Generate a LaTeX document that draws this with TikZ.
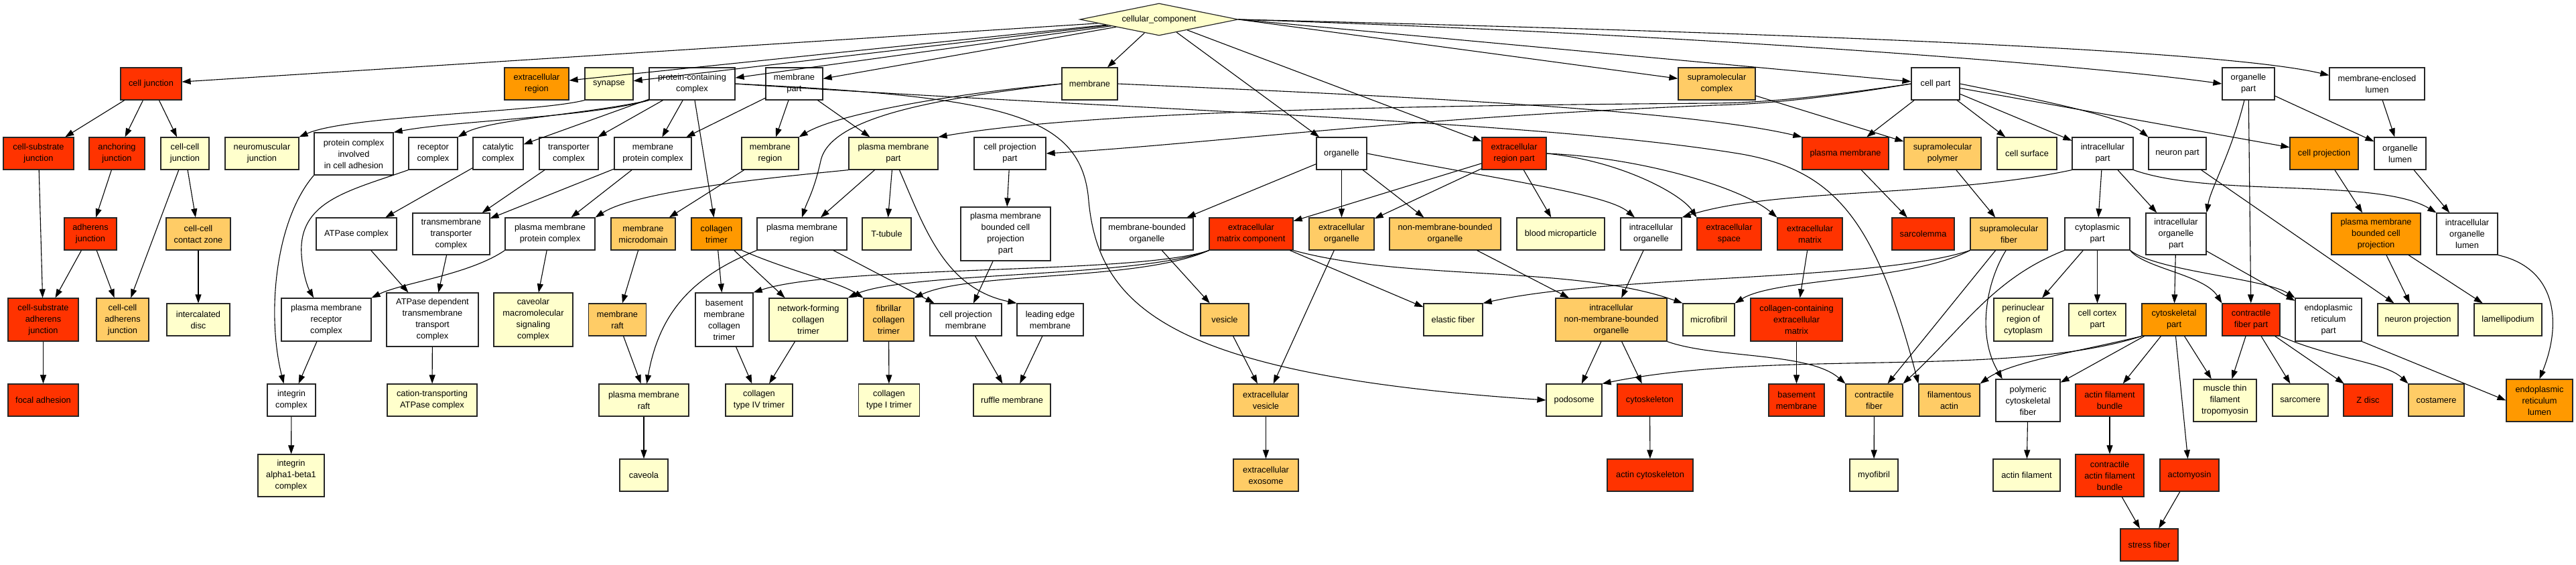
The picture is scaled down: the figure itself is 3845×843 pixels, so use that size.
\documentclass[tikz,border=0pt]{standalone}
\usepackage{fontspec}
\setmainfont{Liberation Sans}
\usetikzlibrary{arrows.meta,shapes.geometric}
\definecolor{cRd}{HTML}{FF3300}
\definecolor{cOr}{HTML}{FF9900}
\definecolor{cLo}{HTML}{FFCC66}
\definecolor{cLy}{HTML}{FFFFCC}
\tikzset{
 bx/.style={draw=black!85, line width=1.2pt, rectangle, align=center, inner sep=0pt, font=\fontsize{12.8}{17}\selectfont},
 fR/.style={fill=cRd}, fO/.style={fill=cOr}, fL/.style={fill=cLo}, fY/.style={fill=cLy}, fW/.style={fill=white},
 ar/.style={-{Triangle[length=13pt,width=9pt]}, line width=1.1pt, draw=black},
}
\newcommand{\gnode}[7]{\node[bx,#1,minimum width=#5pt,minimum height=#6pt] (#2) at (#3,-#4) {#7};}
\begin{document}
\begin{tikzpicture}[x=1pt,y=1pt]
\useasboundingbox (0,0) rectangle (3845,-843);
\fill[white] (0,0) rectangle (3845,-843);
% root
\node[draw=black!85, line width=1.2pt, fill=cLy, diamond, aspect=4.9, minimum width=236pt, minimum height=48pt, inner sep=0pt, font=\fontsize{12.8}{17}\selectfont] (root) at (1730,-29) {cellular\_component};
% row 1
\gnode{fR}{cj}{225.5}{125}{91}{48}{cell junction}
\gnode{fO}{exr}{801}{125}{96}{48}{extracellular\\region}
\gnode{fY}{syn}{909}{125}{72}{48}{synapse}
\gnode{fW}{pcc}{1033}{125}{128}{48}{protein-containing\\complex}
\gnode{fW}{mp}{1185.5}{125}{85}{48}{membrane\\part}
\gnode{fY}{mem}{1626.5}{125}{83}{48}{membrane}
\gnode{fL}{smc}{2562.5}{125}{115}{48}{supramolecular\\complex}
\gnode{fW}{cp}{2889}{125}{72}{48}{cell part}
\gnode{fW}{op}{3356}{125}{78}{48}{organelle\\part}
\gnode{fW}{mel}{3548}{125}{142}{48}{membrane-enclosed\\lumen}
% row 2
\gnode{fR}{csj}{57.5}{229}{105}{48}{cell-substrate\\junction}
\gnode{fR}{aj}{174.5}{229}{83}{48}{anchoring\\junction}
\gnode{fY}{ccj}{276}{229}{72}{48}{cell-cell\\junction}
\gnode{fY}{nmj}{391}{229}{110}{48}{neuromuscular\\junction}
\gnode{fW}{pcica}{528}{229.5}{118}{63}{protein complex\\involved\\in cell adhesion}
\gnode{fW}{rc}{646.5}{229}{73}{48}{receptor\\complex}
\gnode{fW}{cc}{743.5}{229}{75}{48}{catalytic\\complex}
\gnode{fW}{tc}{849}{229}{88}{48}{transporter\\complex}
\gnode{fW}{mpc}{974.5}{229}{115}{48}{membrane\\protein complex}
\gnode{fY}{mr}{1149.5}{229}{85}{48}{membrane\\region}
\gnode{fY}{pmp}{1333.5}{229}{133}{48}{plasma membrane\\part}
\gnode{fW}{cpp}{1507.5}{229}{107}{48}{cell projection\\part}
\gnode{fW}{org}{2002.5}{229}{75}{48}{organelle}
\gnode{fR}{erp}{2260}{229}{96}{48}{extracellular\\region part}
\gnode{fR}{pm}{2754.5}{229}{129}{48}{plasma membrane}
\gnode{fL}{smp}{2899.5}{229}{115}{48}{supramolecular\\polymer}
\gnode{fY}{cs}{3025.5}{229}{89}{48}{cell surface}
\gnode{fW}{ip}{3138.5}{229}{91}{48}{intracellular\\part}
\gnode{fW}{np}{3250}{229}{86}{48}{neuron part}
\gnode{fO}{cpr}{3469}{229}{102}{48}{cell projection}
\gnode{fW}{ol}{3582.5}{229}{77}{48}{organelle\\lumen}
% row 3
\gnode{fR}{adj}{135}{349}{78}{48}{adherens\\junction}
\gnode{fL}{cccz}{296}{349}{96}{48}{cell-cell\\contact zone}
\gnode{fW}{atpc}{532}{349}{120}{48}{ATPase complex}
\gnode{fW}{ttc}{673.5}{349}{115}{62}{transmembrane\\transporter\\complex}
\gnode{fW}{pmpc}{821}{349}{134}{48}{plasma membrane\\protein complex}
\gnode{fL}{mmd}{960}{349}{96}{48}{membrane\\microdomain}
\gnode{fO}{ct}{1069.5}{349}{75}{48}{collagen\\trimer}
\gnode{fW}{pmr}{1197}{349}{134}{48}{plasma membrane\\region}
\gnode{fY}{tt}{1323.5}{349}{73}{48}{T-tubule}
\gnode{fW}{pmbcpp}{1501}{349}{134}{80}{plasma membrane\\bounded cell\\projection\\part}
\gnode{fW}{mbo}{1712}{349}{138}{48}{membrane-bounded\\organelle}
\gnode{fR}{ecmc}{1867.5}{349}{125}{48}{extracellular\\matrix component}
\gnode{fL}{eo}{2002.5}{349}{97}{48}{extracellular\\organelle}
\gnode{fL}{nmbo}{2157}{349}{166}{48}{non-membrane-bounded\\organelle}
\gnode{fY}{bmp}{2329.5}{349}{131}{48}{blood microparticle}
\gnode{fW}{io}{2464.5}{349}{91}{48}{intracellular\\organelle}
\gnode{fR}{es}{2581}{349}{96}{48}{extracellular\\space}
\gnode{fR}{em}{2701.5}{349}{97}{48}{extracellular\\matrix}
\gnode{fR}{sl}{2870.5}{349}{93}{48}{sarcolemma}
\gnode{fL}{sf}{2998.5}{349}{115}{48}{supramolecular\\fiber}
\gnode{fW}{cyp}{3130.5}{349}{97}{48}{cytoplasmic\\part}
\gnode{fW}{iop}{3248}{349}{90}{62}{intracellular\\organelle\\part}
\gnode{fO}{pmbcp}{3546.5}{349}{133}{62}{plasma membrane\\bounded cell\\projection}
\gnode{fW}{iol}{3682.5}{349}{91}{62}{intracellular\\organelle\\lumen}
% row 4
\gnode{fR}{csaj}{64.5}{477}{105}{64}{cell-substrate\\adherens\\junction}
\gnode{fL}{ccaj}{183}{477}{78}{64}{cell-cell\\adherens\\junction}
\gnode{fY}{icd}{296}{477}{94}{48}{intercalated\\disc}
\gnode{fW}{pmrc}{487}{477}{134}{64}{plasma membrane\\receptor\\complex}
\gnode{fW}{adttc}{645.5}{477}{137}{80}{ATPase dependent\\transmembrane\\transport\\complex}
\gnode{fY}{cmsc}{796}{477}{118}{80}{caveolar\\macromolecular\\signaling\\complex}
\gnode{fL}{mrf}{921.5}{477}{86}{48}{membrane\\raft}
\gnode{fW}{bmct}{1081}{477}{86}{80}{basement\\membrane\\collagen\\trimer}
\gnode{fY}{nfct}{1206.5}{477}{117}{64}{network-forming\\collagen\\trimer}
\gnode{fL}{fct}{1326.5}{477}{75}{64}{fibrillar\\collagen\\trimer}
\gnode{fW}{cpm}{1441.5}{477}{107}{48}{cell projection\\membrane}
\gnode{fW}{lem}{1567.5}{477}{99}{48}{leading edge\\membrane}
\gnode{fL}{ves}{1828}{477}{72}{48}{vesicle}
\gnode{fY}{ef}{2169}{477}{88}{48}{elastic fiber}
\gnode{fL}{inmbo}{2405}{477}{166}{64}{intracellular\\non-membrane-bounded\\organelle}
\gnode{fY}{mf}{2550.5}{477}{77}{48}{microfibril}
\gnode{fR}{ccecm}{2681.5}{477}{137}{64}{collagen-containing\\extracellular\\matrix}
\gnode{fY}{prc}{3020}{477}{88}{64}{perinuclear\\region of\\cytoplasm}
\gnode{fY}{ccp}{3130.5}{477}{85}{48}{cell cortex\\part}
\gnode{fO}{cskp}{3245}{477}{96}{48}{cytoskeletal\\part}
\gnode{fR}{cfp}{3360}{477}{86}{48}{contractile\\fiber part}
\gnode{fW}{erpt}{3475.5}{477}{99}{64}{endoplasmic\\reticulum\\part}
\gnode{fY}{npj}{3609}{477}{120}{48}{neuron projection}
\gnode{fY}{lam}{3743.5}{477}{101}{48}{lamellipodium}
% row 5
\gnode{fR}{fa}{64.5}{597}{105}{48}{focal adhesion}
\gnode{fW}{ic}{435}{597}{72}{48}{integrin\\complex}
\gnode{fY}{ctac}{645}{597}{134}{48}{cation-transporting\\ATPase complex}
\gnode{fY}{pmraft}{961}{597}{134}{48}{plasma membrane\\raft}
\gnode{fY}{c4}{1133}{597}{100}{48}{collagen\\type IV trimer}
\gnode{fY}{c1}{1327}{597}{91}{48}{collagen\\type I trimer}
\gnode{fY}{rm}{1510.5}{597}{115}{48}{ruffle membrane}
\gnode{fL}{ev}{1889.5}{597}{97}{48}{extracellular\\vesicle}
\gnode{fY}{pod}{2349.5}{597}{83}{48}{podosome}
\gnode{fR}{csk}{2462.5}{597}{97}{48}{cytoskeleton}
\gnode{fR}{bm}{2681.5}{597}{83}{48}{basement\\membrane}
\gnode{fL}{cf}{2797.5}{597}{85}{48}{contractile\\fiber}
\gnode{fL}{fact}{2909.5}{597}{91}{48}{filamentous\\actin}
\gnode{fW}{pcf}{3027}{597.5}{96}{63}{polymeric\\cytoskeletal\\fiber}
\gnode{fR}{afb}{3149}{597}{102}{48}{actin filament\\bundle}
\gnode{fY}{mtft}{3321}{597.5}{94}{63}{muscle thin\\filament\\tropomyosin}
\gnode{fY}{sarc}{3433.5}{597}{83}{48}{sarcomere}
\gnode{fR}{zd}{3534.5}{597}{73}{48}{Z disc}
\gnode{fL}{cost}{3636.5}{597}{83}{48}{costamere}
\gnode{fO}{erl}{3790.5}{597.5}{99}{63}{endoplasmic\\reticulum\\lumen}
% row 6
\gnode{fY}{iab}{434.5}{709.5}{99}{63}{integrin\\alpha1-beta1\\complex}
\gnode{fY}{cav}{961}{709}{72}{48}{caveola}
\gnode{fL}{exo}{1889.5}{709}{97}{48}{extracellular\\exosome}
\gnode{fR}{acsk}{2463}{709}{128}{48}{actin cytoskeleton}
\gnode{fY}{myo}{2797}{709}{72}{48}{myofibril}
\gnode{fY}{af}{3025}{709}{100}{48}{actin filament}
\gnode{fR}{cafb}{3149}{709.5}{102}{63}{contractile\\actin filament\\bundle}
\gnode{fR}{acto}{3268}{709}{88}{48}{actomyosin}
% row 7
\gnode{fR}{sfb}{3208}{813}{86}{48}{stress fiber}

% ---------- edges ----------
% root
\draw[ar] (root) -- (cj);
\draw[ar] (root) -- (exr);
\draw[ar] (root) -- (syn);
\draw[ar] (root) -- (pcc);
\draw[ar] (root) -- (mp);
\draw[ar] (root) -- (mem);
\draw[ar] (root) -- (org);
\draw[ar] (root) -- (erp);
\draw[ar] (root.east) -- (smc);
\draw[ar] (root.east) -- (cp);
\draw[ar] (root.east) .. controls (2500,-50) and (3100,-95) .. (op.west);
\draw[ar] (root.east) .. controls (2500,-45) and (3300,-70) .. (mel.170);
% row 1
\draw[ar] (cj) -- (csj);
\draw[ar] (cj) -- (aj);
\draw[ar] (cj) -- (ccj);
\draw[ar] (syn.south west) .. controls (800,-168) and (520,-172) .. (nmj.north east);
\draw[ar] (pcc.south west) .. controls (880,-175) and (680,-180) .. (pcica.north east);
\draw[ar] (pcc.south west) .. controls (880,-170) and (730,-178) .. (rc.north east);
\draw[ar] (pcc) -- (cc);
\draw[ar] (pcc) -- (tc);
\draw[ar] (pcc) -- (mpc);
\draw[ar] (pcc) -- (ct);
\draw[ar] (pcc.east) .. controls (1500,-145) and (1615,-170) .. (1625,-300) .. controls (1640,-460) and (1750,-560) .. (pod.west);
\draw[ar] (pcc.east) .. controls (1700,-165) and (2300,-180) .. (2600,-230) .. controls (2740,-255) and (2800,-330) .. (fact.north west);
\draw[ar] (mp) -- (mpc);
\draw[ar] (mp) -- (mr);
\draw[ar] (mp) -- (pmp);
\draw[ar] (mem.west) .. controls (1420,-140) and (1250,-170) .. (mr.north east);
\draw[ar] (mem.west) .. controls (1420,-145) and (1240,-170) .. (1225,-240) .. controls (1215,-285) and (1205,-300) .. (pmr.north);
\draw[ar] (mem.east) .. controls (2000,-140) and (2500,-160) .. (pm.north west);
\draw[ar] (smc) -- (smp);
\draw[ar] (cp.west) .. controls (2750,-140) and (2650,-153) .. (2560,-154) .. controls (2000,-158) and (1600,-170) .. (pmp.north east);
\draw[ar] (cp.west) .. controls (2750,-142) and (2650,-155) .. (2560,-157) .. controls (2100,-175) and (1800,-215) .. (cpp.east);
\draw[ar] (cp) -- (pm);
\draw[ar] (cp) -- (cs);
\draw[ar] (cp) -- (ip);
\draw[ar] (cp.east) .. controls (3050,-150) and (3170,-175) .. (np.north west);
\draw[ar] (cp) -- (cpr);
\draw[ar] (op) .. controls (3330,-230) and (3300,-280) .. (iop.north east);
\draw[ar] (op) -- (ol);
\draw[ar] (op) -- (cfp);
\draw[ar] (mel) -- (ol);
% row 2
\draw[ar] (csj) -- (csaj);
\draw[ar] (aj) -- (adj);
\draw[ar] (adj) -- (csaj);
\draw[ar] (adj) -- (ccaj);
\draw[ar] (ccj) -- (ccaj);
\draw[ar] (ccj) -- (cccz);
\draw[ar] (cccz) -- (icd);
\draw[ar] (csaj) -- (fa);
\draw[ar] (pcica.south west) .. controls (410,-330) and (398,-470) .. (ic.115);
\draw[ar] (rc.south west) .. controls (520,-285) and (445,-300) .. (450,-380) .. controls (452,-410) and (460,-430) .. (pmrc.120);
\draw[ar] (cc) -- (atpc);
\draw[ar] (tc) -- (ttc);
\draw[ar] (mpc) -- (ttc);
\draw[ar] (mpc) -- (pmpc);
\draw[ar] (mr) -- (mmd);
\draw[ar] (pmp.south west) .. controls (1150,-265) and (950,-285) .. (pmpc.north east);
\draw[ar] (pmp) -- (pmr);
\draw[ar] (pmp) -- (tt);
\draw[ar] (pmp.290) .. controls (1380,-340) and (1410,-430) .. (lem.north west);
\draw[ar] (cpp) -- (pmbcpp);
\draw[ar] (org) -- (mbo);
\draw[ar] (org) -- (eo);
\draw[ar] (org) -- (nmbo);
\draw[ar] (org.east) .. controls (2250,-270) and (2400,-290) .. (io.135);
\draw[ar] (erp) -- (ecmc);
\draw[ar] (erp) -- (eo);
\draw[ar] (erp) -- (bmp);
\draw[ar] (erp.east) .. controls (2420,-240) and (2510,-290) .. (es.north west);
\draw[ar] (erp.east) .. controls (2450,-235) and (2600,-280) .. (em.north west);
\draw[ar] (pm) -- (sl);
\draw[ar] (smp) -- (sf);
\draw[ar] (ip) -- (cyp);
\draw[ar] (ip.south west) .. controls (2900,-295) and (2650,-280) .. (io.north east);
\draw[ar] (ip) -- (iop);
\draw[ar] (ip.south east) .. controls (3300,-295) and (3550,-265) .. (iol.north west);
\draw[ar] (np) -- (npj);
\draw[ar] (cpr) -- (pmbcp);
\draw[ar] (ol) -- (iol);
% row 3
\draw[ar] (atpc) -- (adttc);
\draw[ar] (ttc) -- (adttc);
\draw[ar] (pmpc.south west) .. controls (700,-410) and (600,-422) .. (pmrc.north east);
\draw[ar] (pmpc) -- (cmsc);
\draw[ar] (mmd) -- (mrf);
\draw[ar] (ct) -- (bmct);
\draw[ar] (ct) -- (nfct);
\draw[ar] (ct.south east) .. controls (1180,-405) and (1250,-420) .. (fct.north west);
\draw[ar] (pmr.south west) .. controls (1040,-410) and (985,-460) .. (pmraft.80);
\draw[ar] (mrf) -- (pmraft.100);
\draw[ar] (pmr) -- (cpm);
\draw[ar] (pmbcpp) -- (cpm);
\draw[ar] (mbo) -- (ves);
\draw[ar] (ecmc.south west) .. controls (1700,-410) and (1250,-395) .. (bmct.north east);
\draw[ar] (ecmc.south west) .. controls (1700,-415) and (1350,-405) .. (nfct.north east);
\draw[ar] (ecmc.south west) .. controls (1700,-420) and (1450,-405) .. (fct.north east);
\draw[ar] (ecmc) -- (ef);
\draw[ar] (ecmc.south east) .. controls (2100,-420) and (2350,-395) .. (mf.north west);
\draw[ar] (eo) -- (ev);
\draw[ar] (nmbo) -- (inmbo);
\draw[ar] (io) -- (inmbo);
\draw[ar] (em) -- (ccecm);
\draw[ar] (sf.south west) .. controls (2800,-420) and (2400,-410) .. (ef.north east);
\draw[ar] (sf.south west) .. controls (2850,-420) and (2650,-415) .. (mf.north east);
\draw[ar] (sf) -- (cf);
\draw[ar] (sf.260) .. controls (2965,-420) and (2950,-500) .. (pcf.140);
\draw[ar] (cyp.south west) .. controls (2975,-415) and (2930,-490) .. (cf.north east);
\draw[ar] (cyp) -- (prc);
\draw[ar] (cyp) -- (ccp);
\draw[ar] (cyp.south east) .. controls (3200,-400) and (3290,-410) .. (cfp.north west);
\draw[ar] (cyp.south east) .. controls (3220,-405) and (3380,-415) .. (erpt.north west);
\draw[ar] (iop) -- (cskp);
\draw[ar] (iop) -- (erpt);
\draw[ar] (pmbcp) -- (npj);
\draw[ar] (pmbcp) -- (lam);
\draw[ar] (iol.south east) .. controls (3815,-400) and (3825,-480) .. (erl.north);
% row 4
\draw[ar] (pmrc) -- (ic);
\draw[ar] (adttc) -- (ctac);
\draw[ar] (bmct) -- (c4);
\draw[ar] (nfct) -- (c4);
\draw[ar] (fct) -- (c1);
\draw[ar] (cpm) -- (rm);
\draw[ar] (lem) -- (rm);
\draw[ar] (ves) -- (ev);
\draw[ar] (inmbo) -- (pod);
\draw[ar] (inmbo) -- (csk);
\draw[ar] (inmbo.south east) .. controls (2560,-535) and (2700,-525) .. (cf.north west);
\draw[ar] (ccecm) -- (bm);
\draw[ar] (cskp.south west) .. controls (3000,-565) and (2650,-520) .. (pod.north east);
\draw[ar] (cskp.south west) .. controls (3100,-525) and (3000,-540) .. (fact.north east);
\draw[ar] (cskp) -- (pcf);
\draw[ar] (cskp) -- (afb);
\draw[ar] (cskp) -- (mtft);
\draw[ar] (cskp) -- (acto);
\draw[ar] (cfp) -- (mtft);
\draw[ar] (cfp) -- (sarc);
\draw[ar] (cfp) -- (zd);
\draw[ar] (cfp.south east) .. controls (3480,-535) and (3560,-540) .. (cost.north west);
\draw[ar] (erpt.south east) -- (erl.west);
% rows 5-6
\draw[ar] (ic) -- (iab);
\draw[ar] (pmraft) -- (cav);
\draw[ar] (ev) -- (exo);
\draw[ar] (csk) -- (acsk);
\draw[ar] (cf) -- (myo);
\draw[ar] (pcf) -- (af);
\draw[ar] (afb) -- (cafb);
\draw[ar] (cafb) -- (sfb);
\draw[ar] (acto) -- (sfb);
\end{tikzpicture}
\end{document}
